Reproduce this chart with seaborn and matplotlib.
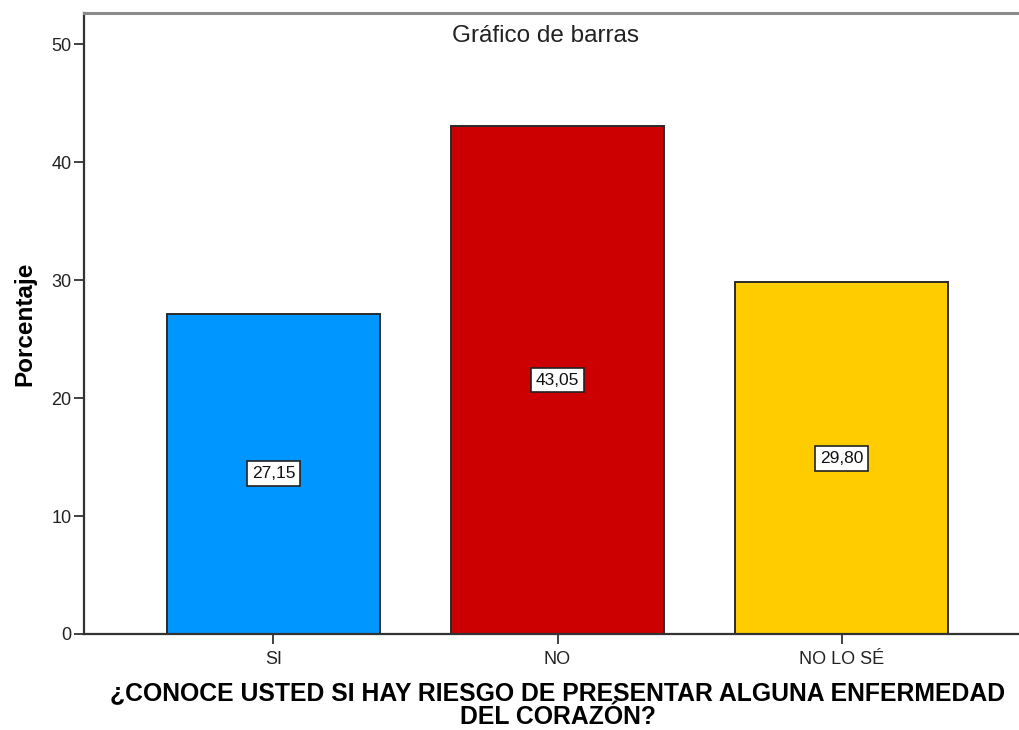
import matplotlib
matplotlib.use("Agg")
import matplotlib.pyplot as plt
import seaborn as sns
import pandas as pd

# Survey responses: share of respondents (%)
categories = ["SI", "NO", "NO LO SÉ"]
percentages = [27.15, 43.05, 29.80]
bar_colors = ["#0096FF", "#CC0000", "#FFCC00"]
value_labels = ["27,15", "43,05", "29,80"]

df = pd.DataFrame({"respuesta": categories, "porcentaje": percentages})

sns.set_theme(style="white")
plt.rcParams["font.family"] = ["Liberation Sans", "DejaVu Sans"]

fig = plt.figure(figsize=(10.2, 7.3), dpi=100)
ax = fig.add_axes([84 / 1020, 96 / 730, 947 / 1020, 621 / 730])

sns.barplot(
    data=df, x="respuesta", y="porcentaje", hue="respuesta",
    palette=bar_colors, order=categories, hue_order=categories,
    width=0.75, edgecolor="#2b2b2b", linewidth=1.4, legend=False,
    saturation=1, ax=ax,
)

# Value boxes halfway up each bar
for i, (v, lab) in enumerate(zip(percentages, value_labels)):
    ax.text(i, v / 2, lab, ha="center", va="center", fontsize=12.5, color="#111111",
            bbox=dict(boxstyle="square,pad=0.28", facecolor="white",
                      edgecolor="#222222", linewidth=1.2))

ax.set_xlim(-0.667, 2.667)
ax.set_ylim(0, 52.63)
ax.set_yticks([0, 10, 20, 30, 40, 50])

for s in ["left", "bottom"]:
    ax.spines[s].set_color("#333333")
    ax.spines[s].set_linewidth(1.6)
ax.spines["top"].set_color("#8a8a8a")
ax.spines["top"].set_linewidth(2.2)
ax.spines["right"].set_visible(False)

ax.tick_params(axis="both", direction="out", length=7, width=1.3, color="#333333",
               labelsize=13, labelcolor="#222222")
ax.tick_params(axis="y", left=True, pad=2)
ax.tick_params(axis="x", bottom=True, pad=5)

ax.set_ylabel("Porcentaje", fontsize=17.5, fontweight="bold", color="black", labelpad=11)
ax.set_xlabel("¿CONOCE USTED SI HAY RIESGO DE PRESENTAR ALGUNA ENFERMEDAD\nDEL CORAZÓN?",
              fontsize=17.8, fontweight="bold", color="black", labelpad=10, linespacing=0.98)

fig.text(546 / 1020, 1 - 36 / 730, "Gráfico de barras", ha="center", va="center",
         fontsize=17.5, color="#222222")

fig.savefig("out.png", dpi=100)
